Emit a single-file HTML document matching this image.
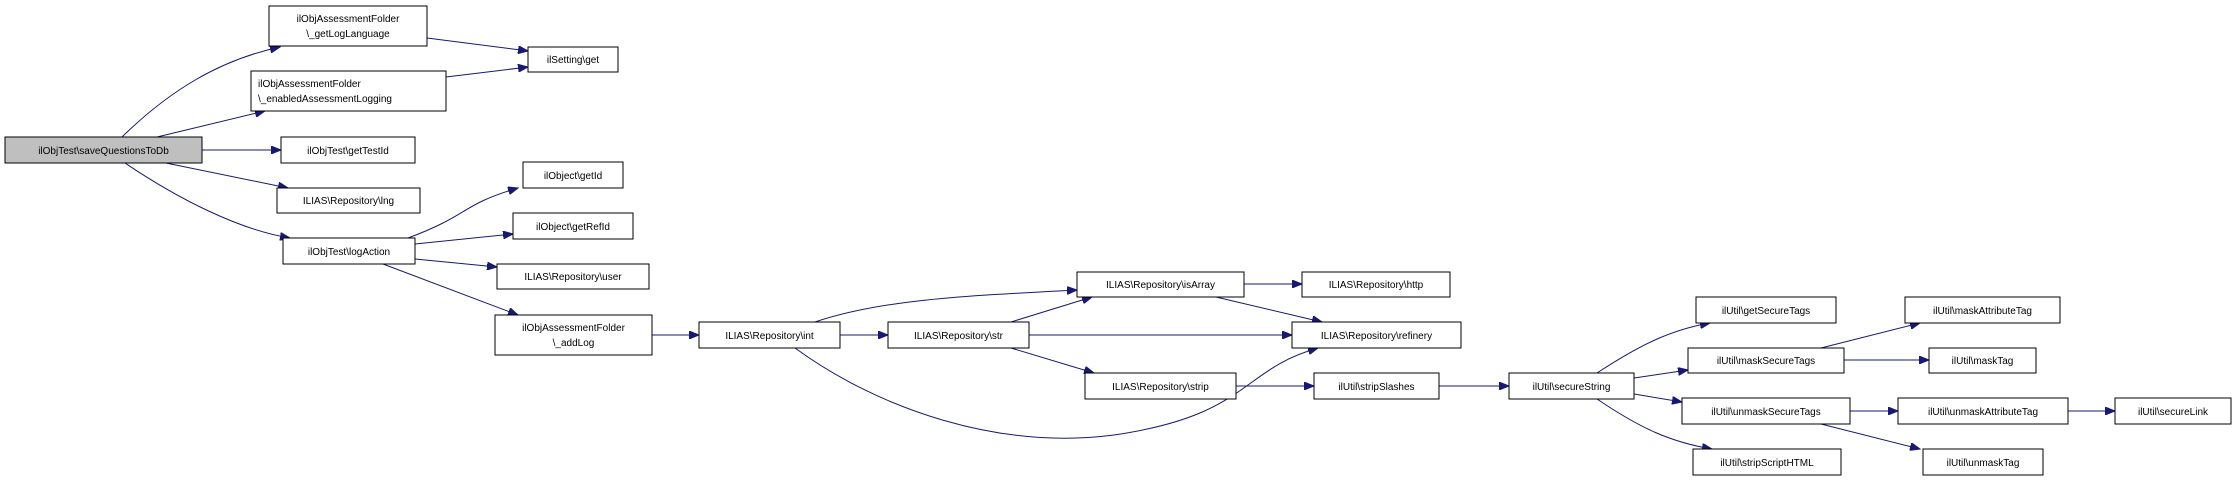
<!DOCTYPE html>
<html><head><meta charset="utf-8"><style>
html,body{margin:0;padding:0;background:#fff;}
svg{display:block;}
text{font-family:"Liberation Sans",sans-serif;font-size:10px;fill:#000;}
rect{fill:#fff;stroke:#000;stroke-width:1;}
path{fill:none;stroke:#191970;stroke-width:1;}
</style></head><body>
<svg width="2236" height="481" viewBox="0 0 2236 481" xmlns="http://www.w3.org/2000/svg">
<defs><marker id="a" markerUnits="userSpaceOnUse" markerWidth="11" markerHeight="8" refX="10" refY="4" orient="auto"><path d="M0,0 L10,4 L0,8 Z" style="fill:#191970;stroke:#191970"/></marker></defs>
<g marker-end="url(#a)">
<path d="M122,137 C170,90 220,60 280,47"/>
<path d="M157,137 L265,111"/>
<path d="M202,150 L281,150"/>
<path d="M166,163 L288,188"/>
<path d="M125,163 C180,200 240,230 290,238"/>
<path d="M427,38 L528,51"/>
<path d="M446,77 L528,67"/>
<path d="M408,238 C470,215 460,205 518,188"/>
<path d="M415,244 L513,234"/>
<path d="M415,259 L497,267"/>
<path d="M383,264 L518,315"/>
<path d="M652,335 L699,335"/>
<path d="M815,322 C880,300 960,296 1077,290"/>
<path d="M840,335 L888,335"/>
<path d="M795,348 C880,410 1000,450 1114,435 C1250,415 1240,370 1318,348"/>
<path d="M1011,322 L1092,297"/>
<path d="M1029,335 L1292,335"/>
<path d="M1011,348 L1094,373"/>
<path d="M1244,284 L1302,284"/>
<path d="M1216,297 L1322,322"/>
<path d="M1236,386 L1314,386"/>
<path d="M1439,386 L1509,386"/>
<path d="M1597,373 C1640,345 1670,330 1710,323"/>
<path d="M1634,378 L1688,370"/>
<path d="M1634,394 L1682,402"/>
<path d="M1597,399 C1640,428 1670,442 1712,449"/>
<path d="M1821,348 L1920,323"/>
<path d="M1844,360 L1929,360"/>
<path d="M1850,411 L1898,411"/>
<path d="M1821,424 L1920,449"/>
<path d="M2068,411 L2115,411"/>
</g>
<rect x="5" y="137" width="197" height="26" style="fill:#bfbfbf"/><text x="103.5" y="154" text-anchor="middle">ilObjTest\saveQuestionsToDb</text>
<rect x="269" y="6" width="158" height="40"/><text x="348" y="22" text-anchor="middle">ilObjAssessmentFolder</text><text x="348" y="37" text-anchor="middle">\_getLogLanguage</text>
<rect x="251" y="71" width="195" height="40"/><text x="258" y="87">ilObjAssessmentFolder</text><text x="258" y="102">\_enabledAssessmentLogging</text>
<rect x="281" y="137" width="134" height="26"/><text x="348" y="154" text-anchor="middle">ilObjTest\getTestId</text>
<rect x="277" y="188" width="143" height="25"/><text x="348.5" y="204" text-anchor="middle">ILIAS\Repository\lng</text>
<rect x="283" y="238" width="132" height="26"/><text x="349" y="255" text-anchor="middle">ilObjTest\logAction</text>
<rect x="528" y="47" width="90" height="25"/><text x="573" y="63" text-anchor="middle">ilSetting\get</text>
<rect x="523" y="162" width="100" height="26"/><text x="573" y="179" text-anchor="middle">ilObject\getId</text>
<rect x="513" y="213" width="120" height="26"/><text x="573" y="230" text-anchor="middle">ilObject\getRefId</text>
<rect x="497" y="264" width="152" height="25"/><text x="573" y="280" text-anchor="middle">ILIAS\Repository\user</text>
<rect x="495" y="315" width="157" height="40"/><text x="573.5" y="331" text-anchor="middle">ilObjAssessmentFolder</text><text x="573.5" y="346" text-anchor="middle">\_addLog</text>
<rect x="699" y="322" width="141" height="26"/><text x="769.5" y="339" text-anchor="middle">ILIAS\Repository\int</text>
<rect x="888" y="322" width="141" height="26"/><text x="958.5" y="339" text-anchor="middle">ILIAS\Repository\str</text>
<rect x="1077" y="272" width="167" height="25"/><text x="1160.5" y="288" text-anchor="middle">ILIAS\Repository\isArray</text>
<rect x="1302" y="272" width="148" height="25"/><text x="1376" y="288" text-anchor="middle">ILIAS\Repository\http</text>
<rect x="1292" y="322" width="169" height="26"/><text x="1376.5" y="339" text-anchor="middle">ILIAS\Repository\refinery</text>
<rect x="1085" y="373" width="151" height="26"/><text x="1160.5" y="390" text-anchor="middle">ILIAS\Repository\strip</text>
<rect x="1314" y="373" width="125" height="26"/><text x="1376.5" y="390" text-anchor="middle">ilUtil\stripSlashes</text>
<rect x="1509" y="373" width="125" height="26"/><text x="1571.5" y="390" text-anchor="middle">ilUtil\secureString</text>
<rect x="1696" y="297" width="140" height="26"/><text x="1766" y="314" text-anchor="middle">ilUtil\getSecureTags</text>
<rect x="1688" y="348" width="156" height="25"/><text x="1766" y="364" text-anchor="middle">ilUtil\maskSecureTags</text>
<rect x="1682" y="398" width="168" height="26"/><text x="1766" y="415" text-anchor="middle">ilUtil\unmaskSecureTags</text>
<rect x="1693" y="449" width="148" height="26"/><text x="1767" y="466" text-anchor="middle">ilUtil\stripScriptHTML</text>
<rect x="1905" y="297" width="155" height="26"/><text x="1982.5" y="314" text-anchor="middle">ilUtil\maskAttributeTag</text>
<rect x="1929" y="348" width="107" height="25"/><text x="1982.5" y="364" text-anchor="middle">ilUtil\maskTag</text>
<rect x="1898" y="398" width="170" height="26"/><text x="1983" y="415" text-anchor="middle">ilUtil\unmaskAttributeTag</text>
<rect x="1923" y="449" width="120" height="26"/><text x="1983" y="466" text-anchor="middle">ilUtil\unmaskTag</text>
<rect x="2115" y="398" width="116" height="26"/><text x="2173" y="415" text-anchor="middle">ilUtil\secureLink</text>
</svg>
</body></html>
